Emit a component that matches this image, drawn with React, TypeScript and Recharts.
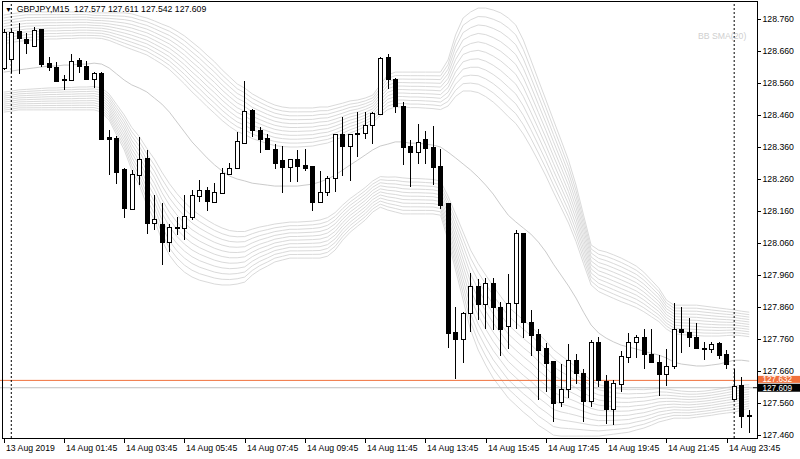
import React from 'react';
import { ComposedChart, Bar, Line, XAxis, YAxis, ReferenceLine } from 'recharts';

// GBPJPY M15 candles
const openP = [
  128.607, 128.635, 128.723, 128.698, 128.677, 128.729, 128.622, 128.612, 128.574, 128.570,
  128.632, 128.615, 128.575, 128.591, 128.391, 128.390, 128.291, 128.167, 128.275, 128.328,
  128.124, 128.122, 128.065, 128.110, 128.109, 128.143, 128.209, 128.228, 128.190, 128.218,
  128.278, 128.297, 128.374, 128.476, 128.414, 128.388, 128.356, 128.320, 128.299, 128.322,
  128.304, 128.302, 128.188, 128.221, 128.263, 128.401, 128.365, 128.406, 128.405, 128.429,
  128.464, 128.641, 128.575, 128.490, 128.364, 128.346, 128.385, 128.362, 128.302, 128.185,
  127.784, 127.761, 127.841, 127.926, 127.872, 127.937, 127.860, 127.802, 127.874, 128.091,
  127.813, 127.778, 127.734, 127.693, 127.565, 127.604, 127.695, 127.656, 127.568, 127.752,
  127.629, 127.544, 127.622, 127.705, 127.752, 127.766, 127.713, 127.690, 127.651, 127.677,
  127.794, 127.784, 127.768, 127.734, 127.731, 127.749, 127.713, 127.573, 127.617, 127.523,
];
const highP = [
  128.731, 128.731, 128.747, 128.716, 128.737, 128.731, 128.641, 128.627, 128.586, 128.653,
  128.638, 128.630, 128.596, 128.596, 128.414, 128.395, 128.294, 128.289, 128.393, 128.351,
  128.211, 128.185, 128.122, 128.143, 128.211, 128.226, 128.258, 128.237, 128.249, 128.294,
  128.310, 128.409, 128.568, 128.481, 128.424, 128.403, 128.370, 128.364, 128.323, 128.351,
  128.356, 128.302, 128.287, 128.270, 128.403, 128.455, 128.403, 128.469, 128.471, 128.471,
  128.641, 128.650, 128.578, 128.502, 128.383, 128.433, 128.412, 128.426, 128.354, 128.185,
  127.862, 127.846, 127.966, 127.950, 127.953, 127.953, 127.877, 127.963, 128.101, 128.091,
  127.853, 127.794, 127.750, 127.693, 127.683, 127.745, 127.713, 127.669, 127.758, 127.768,
  127.648, 127.633, 127.724, 127.780, 127.773, 127.791, 127.791, 127.711, 127.731, 127.875,
  127.860, 127.828, 127.810, 127.752, 127.752, 127.752, 127.726, 127.669, 127.643, 127.541,
];
const lowP = [
  128.601, 128.591, 128.589, 128.653, 128.674, 128.612, 128.598, 128.567, 128.539, 128.570,
  128.591, 128.570, 128.544, 128.386, 128.273, 128.244, 128.140, 128.167, 128.242, 128.088,
  128.101, 127.992, 128.034, 128.086, 128.070, 128.133, 128.190, 128.162, 128.185, 128.216,
  128.273, 128.291, 128.370, 128.393, 128.341, 128.353, 128.291, 128.218, 128.252, 128.252,
  128.287, 128.162, 128.185, 128.207, 128.219, 128.271, 128.254, 128.330, 128.385, 128.370,
  128.464, 128.541, 128.468, 128.306, 128.237, 128.308, 128.308, 128.242, 128.166, 127.734,
  127.636, 127.687, 127.784, 127.820, 127.791, 127.789, 127.708, 127.731, 127.794, 127.765,
  127.709, 127.572, 127.596, 127.502, 127.549, 127.578, 127.622, 127.502, 127.549, 127.610,
  127.495, 127.492, 127.596, 127.687, 127.703, 127.667, 127.685, 127.584, 127.614, 127.669,
  127.719, 127.737, 127.731, 127.695, 127.716, 127.698, 127.667, 127.570, 127.482, 127.468,
];
const closeP = [
  128.721, 128.721, 128.700, 128.685, 128.728, 128.619, 128.610, 128.568, 128.569, 128.630,
  128.614, 128.573, 128.591, 128.386, 128.387, 128.284, 128.169, 128.276, 128.325, 128.124,
  128.135, 128.065, 128.110, 128.111, 128.145, 128.211, 128.228, 128.192, 128.219, 128.281,
  128.294, 128.380, 128.474, 128.414, 128.385, 128.354, 128.312, 128.299, 128.323, 128.302,
  128.297, 128.188, 128.219, 128.263, 128.403, 128.365, 128.403, 128.401, 128.429, 128.466,
  128.638, 128.575, 128.489, 128.362, 128.346, 128.377, 128.359, 128.299, 128.181, 127.781,
  127.761, 127.843, 127.926, 127.872, 127.935, 127.860, 127.792, 127.874, 128.091, 127.815,
  127.773, 127.728, 127.687, 127.560, 127.604, 127.695, 127.655, 127.568, 127.752, 127.633,
  127.544, 127.624, 127.709, 127.752, 127.766, 127.713, 127.688, 127.651, 127.677, 127.794,
  127.782, 127.766, 127.734, 127.733, 127.747, 127.711, 127.682, 127.615, 127.520, 127.522,
];

// bollinger fan: outermost upper, middle sma, outermost lower
const bandUpper = [
  128.773, 128.777, 128.780, 128.783, 128.783, 128.783, 128.783, 128.783, 128.783, 128.783,
  128.783, 128.783, 128.780, 128.780, 128.780, 128.780, 128.780, 128.777, 128.770, 128.764,
  128.755, 128.745, 128.736, 128.723, 128.708, 128.689, 128.670, 128.648, 128.627, 128.602,
  128.580, 128.558, 128.545, 128.527, 128.514, 128.502, 128.492, 128.486, 128.483, 128.483,
  128.483, 128.483, 128.486, 128.486, 128.492, 128.498, 128.505, 128.508, 128.514, 128.523,
  128.555, 128.586, 128.595, 128.595, 128.595, 128.595, 128.595, 128.595, 128.595, 128.633,
  128.711, 128.764, 128.783, 128.795, 128.795, 128.789, 128.780, 128.764, 128.742, 128.695,
  128.633, 128.570, 128.508, 128.445, 128.383, 128.320, 128.242, 128.148, 128.055, 128.039,
  128.033, 128.024, 128.014, 128.002, 127.989, 127.970, 127.945, 127.920, 127.883, 127.867,
  127.867, 127.867, 127.867, 127.864, 127.861, 127.858, 127.855, 127.852, 127.848, 127.845,
];
const bandMid = [
  128.595, 128.598, 128.602, 128.605, 128.608, 128.611, 128.614, 128.614, 128.617, 128.617,
  128.620, 128.620, 128.623, 128.620, 128.608, 128.589, 128.570, 128.555, 128.545, 128.533,
  128.514, 128.495, 128.470, 128.439, 128.408, 128.377, 128.352, 128.327, 128.305, 128.286,
  128.270, 128.261, 128.255, 128.248, 128.245, 128.242, 128.239, 128.239, 128.239, 128.239,
  128.242, 128.245, 128.252, 128.261, 128.273, 128.289, 128.305, 128.320, 128.336, 128.352,
  128.364, 128.370, 128.377, 128.377, 128.373, 128.373, 128.370, 128.367, 128.361, 128.345,
  128.327, 128.308, 128.289, 128.267, 128.242, 128.214, 128.180, 128.148, 128.127, 128.108,
  128.089, 128.064, 128.033, 127.995, 127.961, 127.927, 127.889, 127.845, 127.805, 127.780,
  127.764, 127.752, 127.742, 127.736, 127.730, 127.723, 127.717, 127.711, 127.702, 127.689,
  127.683, 127.680, 127.677, 127.677, 127.680, 127.683, 127.689, 127.695, 127.695, 127.692,
];
const bandLower = [
  128.470, 128.473, 128.477, 128.477, 128.477, 128.477, 128.477, 128.477, 128.477, 128.477,
  128.477, 128.477, 128.477, 128.470, 128.445, 128.398, 128.352, 128.289, 128.242, 128.180,
  128.133, 128.070, 128.023, 127.992, 127.970, 127.955, 127.945, 127.939, 127.933, 127.930,
  127.930, 127.933, 127.939, 127.961, 127.977, 127.989, 128.002, 128.008, 128.014, 128.014,
  128.014, 128.014, 128.014, 128.020, 128.039, 128.070, 128.095, 128.114, 128.133, 128.158,
  128.173, 128.164, 128.158, 128.152, 128.152, 128.152, 128.152, 128.152, 128.148, 128.070,
  127.977, 127.883, 127.789, 127.727, 127.680, 127.639, 127.608, 127.577, 127.555, 127.533,
  127.514, 127.492, 127.477, 127.461, 127.458, 127.458, 127.458, 127.458, 127.458, 127.458,
  127.461, 127.464, 127.467, 127.470, 127.477, 127.483, 127.492, 127.502, 127.508, 127.514,
  127.514, 127.514, 127.517, 127.520, 127.523, 127.527, 127.530, 127.533, 127.539, 127.545,
];
// share of the outer distance for each line of the fan
const fanSteps = [0.5, 0.55, 0.6, 0.65, 0.7, 0.75, 0.8, 0.85, 0.9, 0.95, 1.0];

const timeTicks = [0, 8, 16, 24, 32, 40, 48, 56, 64, 72, 80, 88, 96];
const timeLabels = [
  '13 Aug 2019', '14 Aug 01:45', '14 Aug 03:45', '14 Aug 05:45', '14 Aug 07:45',
  '14 Aug 09:45', '14 Aug 11:45', '14 Aug 13:45', '14 Aug 15:45', '14 Aug 17:45',
  '14 Aug 19:45', '14 Aug 21:45', '14 Aug 23:45',
];
const priceTicks = [
  128.76, 128.66, 128.56, 128.46, 128.36, 128.26, 128.16,
  128.06, 127.96, 127.86, 127.76, 127.66, 127.56, 127.46,
];
const daySeparators = [1, 97];
const askPrice = 127.632;
const bidPrice = 127.609;

const data = openP.map((o, i) => ({
  i,
  open: o,
  high: highP[i],
  low: lowP[i],
  close: closeP[i],
  up: bandUpper[i],
  mid: bandMid[i],
  dn: bandLower[i],
}));

const FONT = '"Liberation Sans", Arial, sans-serif';

const Candle = (props: any) => {
  const { x, y, width, height, payload } = props;
  const top = Math.min(y, y + height);
  const h = Math.abs(height);
  const span = payload.high - payload.low;
  const k = span > 0 ? h / span : 0;
  const cx = Math.round(x + width / 2) + 0.5;
  const yO = top + (payload.high - payload.open) * k;
  const yC = top + (payload.high - payload.close) * k;
  const bull = payload.close > payload.open;
  const bTop = Math.round(Math.min(yO, yC));
  let bBot = Math.round(Math.max(yO, yC));
  if (bBot - bTop < 1) bBot = bTop + 1;
  return (
    <g>
      <line x1={cx} x2={cx} y1={Math.round(top)} y2={Math.round(top + h)} stroke="#000" strokeWidth={1} />
      {bull ? (
        <rect x={cx - 2} y={bTop + 0.5} width={4} height={bBot - bTop} fill="#fff" stroke="#000" strokeWidth={1} />
      ) : (
        <rect x={cx - 2.5} y={bTop} width={5} height={bBot - bTop + 1} fill="#000" />
      )}
    </g>
  );
};

const TimeTick = (props: any) => {
  const { x, payload } = props;
  const idx = timeTicks.indexOf(payload.value);
  const tx = Math.round(x) + 0.5;
  return (
    <g>
      <line x1={tx} x2={tx} y1={439} y2={443} stroke="#000" />
      <text x={tx + 1.5} y={450.5} fontSize={8.7} fontFamily={FONT} fill="#000">
        {idx >= 0 ? timeLabels[idx] : ''}
      </text>
    </g>
  );
};

const PriceTick = (props: any) => {
  const { y, payload } = props;
  const ty = Math.round(y) + 0.5;
  return (
    <g>
      <line x1={757} x2={761} y1={ty} y2={ty} stroke="#000" />
      <text x={762.5} y={y + 3} fontSize={8.7} fontFamily={FONT} fill="#000">
        {Number(payload.value).toFixed(3)}
      </text>
    </g>
  );
};

const priceTag = (bg: string, fg: string, text: string, top: number, h: number, base: number) => (props: any) => {
  const { viewBox } = props;
  const y = viewBox.y;
  return (
    <g>
      <line x1={viewBox.x + viewBox.width} x2={757} y1={y} y2={y} stroke={bg} />
      <rect x={758} y={y - top} width={42} height={h} fill={bg} />
      <text x={762.5} y={y + base} fontSize={8.2} fontFamily={FONT} fill={fg}>{text}</text>
    </g>
  );
};

export default function App() {
  return (
    <div style={{ position: 'absolute', left: 0, top: 0, width: 800, height: 459, background: '#fff' }}>
      <ComposedChart
        width={800}
        height={459}
        data={data}
        margin={{ top: 2, right: 0, bottom: 0, left: 0 }}
        barCategoryGap={0}
      >
        <XAxis
          dataKey="i"
          type="category"
          ticks={timeTicks}
          interval={0}
          tick={<TimeTick />}
          axisLine={false}
          tickLine={false}
          height={21}
        />
        <YAxis
          orientation="right"
          type="number"
          domain={[127.452, 128.814]}
          allowDataOverflow
          ticks={priceTicks}
          interval={0}
          tick={<PriceTick />}
          axisLine={false}
          tickLine={false}
          width={47}
        />
        {fanSteps.map((r) => (
          <Line
            key={'u' + r}
            dataKey={(d: any) => d.mid + (d.up - d.mid) * r}
            stroke="#dadada"
            strokeWidth={1}
            dot={false}
            activeDot={false}
            isAnimationActive={false}
            zIndex={100}
          />
        ))}
        {fanSteps.map((r) => (
          <Line
            key={'d' + r}
            dataKey={(d: any) => d.mid + (d.dn - d.mid) * r}
            stroke="#dadada"
            strokeWidth={1}
            dot={false}
            activeDot={false}
            isAnimationActive={false}
            zIndex={100}
          />
        ))}
        <Line dataKey="mid" stroke="#cbcbcb" strokeWidth={1} dot={false} activeDot={false} isAnimationActive={false} zIndex={100} />
        <ReferenceLine y={bidPrice} stroke="#c0c0c0" zIndex={200} label={priceTag('#000', '#fff', bidPrice.toFixed(3), 4, 8, 3.5)} />
        <ReferenceLine y={askPrice} stroke="#f0703c" zIndex={150} label={priceTag('#f0703c', '#fff', askPrice.toFixed(3), 4.5, 7, 2)} />
        {daySeparators.map((s) => (
          <ReferenceLine key={s} x={s} stroke="#000" strokeDasharray="2 2" zIndex={250} />
        ))}
        <Bar
          dataKey={(d: any) => [d.low, d.high]}
          barSize={5}
          shape={<Candle />}
          isAnimationActive={false}
          zIndex={1000}
        />
      </ComposedChart>
      <div
        style={{
          position: 'absolute', left: 2, top: 1, width: 756, height: 438,
          border: '1px solid #000', boxSizing: 'border-box', pointerEvents: 'none',
        }}
      />
      <div style={{ position: 'absolute', left: 5, top: 4, fontFamily: FONT, fontSize: 8.7, color: '#000', whiteSpace: 'pre' }}>
        <span style={{ fontSize: 7 }}>▼</span>{'  GBPJPY,M15  127.577 127.611 127.542 127.609'}
      </div>
      <div style={{ position: 'absolute', left: 698, top: 31, fontFamily: FONT, fontSize: 8.7, color: '#cfcfcf', whiteSpace: 'pre' }}>
        BB SMA(20)
      </div>
    </div>
  );
}
